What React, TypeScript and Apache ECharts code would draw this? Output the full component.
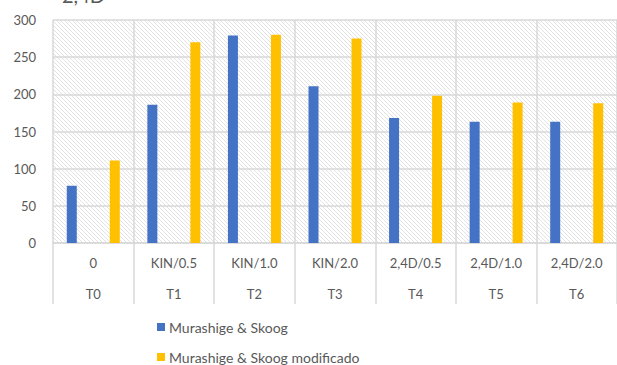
import React, { useEffect, useRef } from "react";
import * as echarts from "echarts";

const concentrations = ["0", "KIN/0.5", "KIN/1.0", "KIN/2.0", "2,4D/0.5", "2,4D/1.0", "2,4D/2.0"];
const treatments = ["T0", "T1", "T2", "T3", "T4", "T5", "T6"];
const msValues = [77, 186, 279, 211, 168, 163, 163];
const msModValues = [111, 270, 280, 275, 198, 189, 188];
const seriesNames = ["Murashige & Skoog", "Murashige & Skoog modificado"];

const hatchSvg =
  '<svg xmlns="http://www.w3.org/2000/svg" width="4" height="4">' +
  '<rect width="4" height="4" fill="#ffffff"/>' +
  '<path d="M0,0 L4,4 M-1,3 L1,5 M3,-1 L5,1" stroke="#e2e2e2" stroke-width="1"/></svg>';
const hatchUrl = "data:image/svg+xml;charset=utf-8," + encodeURIComponent(hatchSvg);

export default function App() {
  const ref = useRef<HTMLDivElement>(null);
  useEffect(() => {
    if (!ref.current) return;
    const chart = echarts.init(ref.current, undefined, { renderer: "svg" });
    const font = "Lato, 'Open Sans', sans-serif";
    const legendCommon = {
      orient: "horizontal",
      left: 157,
      itemWidth: 8,
      itemHeight: 8,
      icon: "rect",
      padding: 0,
      textStyle: { fontSize: 14, color: "#595959", fontFamily: font, padding: [0, 0, 0, -1] },
    };
    chart.setOption({
      animation: false,
      textStyle: { fontFamily: font },
      graphic: [
        {
          type: "text",
          left: 62,
          top: -15,
          style: { text: "2,4D", fontSize: 20, fill: "#595959", fontFamily: font },
        },
      ],
      grid: {
        left: 53,
        right: 0,
        top: 20,
        bottom: 122,
        show: true,
        borderWidth: 0,
        backgroundColor: { image: hatchUrl, repeat: "repeat" } as any,
      },
      legend: [
        { ...legendCommon, top: 320, data: [seriesNames[0]] },
        { ...legendCommon, top: 350, data: [seriesNames[1]] },
      ],
      xAxis: {
        type: "category",
        data: concentrations.map((c, i) => c + "\n" + treatments[i]),
        axisLine: { show: true, lineStyle: { color: "#d9d9d9", width: 1.5 } },
        axisTick: { show: true, length: 61, lineStyle: { color: "#d9d9d9", width: 1.5 } },
        splitLine: { show: true, lineStyle: { color: "#d9d9d9", width: 1.5 } },
        axisLabel: {
          margin: 4,
          color: "#595959",
          fontSize: 13,
          lineHeight: 31,
          interval: 0,
          fontFamily: font,
        },
      },
      yAxis: {
        type: "value",
        min: 0,
        max: 300,
        interval: 50,
        axisLine: { show: false },
        axisTick: { show: false },
        splitLine: { show: true, lineStyle: { color: "#d9d9d9", width: 1.5 } },
        axisLabel: { margin: 17, color: "#595959", fontSize: 13, fontFamily: font },
      },
      series: [
        {
          name: seriesNames[0],
          type: "bar",
          data: msValues,
          barWidth: 10,
          barGap: "330%",
          itemStyle: { color: "#4472C4" },
        },
        {
          name: seriesNames[1],
          type: "bar",
          data: msModValues,
          barWidth: 10,
          itemStyle: { color: "#FFC000" },
        },
      ],
    });
    return () => chart.dispose();
  }, []);
  return <div ref={ref} style={{ width: 617, height: 365, position: "absolute", left: 0, top: 0 }} />;
}
